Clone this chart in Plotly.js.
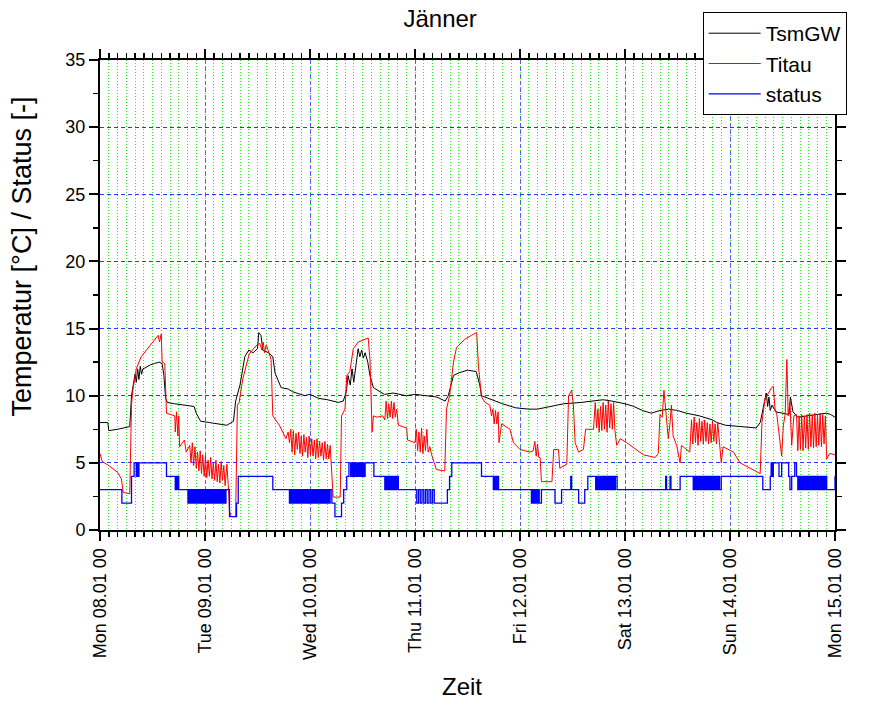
<!DOCTYPE html>
<html>
<head>
<meta charset="utf-8">
<script src="https://cdn.plot.ly/plotly-3.0.1.min.js"></script>
<style>html,body{margin:0;padding:0;background:#fff;}#chart{width:891px;height:701px;}</style>
</head>
<body>
<div id="chart"></div>
<script>
// time in hours since Mon 08.01 00:00
const tickHours = [0, 24, 48, 72, 96, 120, 144, 168];
const tickLabels = ["Mon 08.01 00", "Tue 09.01 00", "Wed 10.01 00", "Thu 11.01 00", "Fri 12.01 00", "Sat 13.01 00", "Sun 14.01 00", "Mon 15.01 00"];
const chartTitle = "Jänner";
const xTitle = "Zeit";
const yTitle = "Temperatur [°C] / Status [-]";

const tsmT = [0,1.8,2.0,4,6.8,7.2,7.6,8.0,8.3,8.6,8.9,9.2,9.5,9.8,10.5,11.5,12.5,13.5,14.2,14.6,15.0,15.4,17,19,21.5,22,23,25,27,29,30.5,31,32,32.6,33.1,34,35,36,36.3,36.8,37.2,38.5,39.5,40,41.4,43,44,46.8,48,50,52,54.5,55.6,56.3,56.7,57.2,57.6,58,58.4,58.7,59,59.4,59.8,60.2,60.6,61.2,61.7,62.5,63.6,65,67,70,72,75,77,78.9,79.6,80.4,80.8,82,84,86,86.8,87.2,88,90,92,95,98,100,103,106,110,113,115,117,120,122,124,126,128,130,132,134,137,140,141,143,146,150,150.9,151.9,152.3,152.6,152.9,153.2,153.6,154.5,156,157.5,157.8,158.4,159.5,162,164,166,167,168];
const tsmV = [8.0,8.0,7.4,7.5,7.7,10.0,10.8,11.6,11.0,12.0,11.2,12.2,11.6,12.0,12.1,12.3,12.4,12.5,12.4,11.5,9.8,9.5,9.4,9.3,9.2,8.7,8.1,8.0,7.9,7.8,8.1,9.6,10.8,11.8,12.9,13.4,13.2,13.5,14.7,14.5,13.4,13.2,12.9,11.7,10.6,10.5,10.3,10.0,10.1,9.8,9.7,9.5,9.6,10.3,11.5,10.8,12.0,11.0,12.2,12.8,13.5,12.9,13.4,12.8,13.2,12.5,11.5,10.6,10.4,10.1,10.2,10.0,10.1,10.0,9.9,9.6,10.0,11.0,11.5,11.7,11.9,11.8,10.8,10.0,9.9,9.6,9.4,9.1,9.0,9.0,9.2,9.4,9.5,9.6,9.7,9.6,9.4,9.2,8.9,8.7,8.9,9.0,8.9,8.7,8.5,8.2,8.0,7.8,7.7,7.6,8.0,9.5,10.2,9.2,9.9,8.9,9.3,8.8,8.7,8.6,9.9,8.8,8.4,8.5,8.6,8.7,8.6,8.4];

const titT = [0,0.5,2,4,4.9,5.3,6.8,7.2,7.5,8.3,9.4,10.9,12,13.3,13.6,14.0,14.2,14.8,15.2,16,17.1,17.2,17.5,17.8,18.0,18.2,19.3,19.7,20.5,20.8,21.1,21.4,21.7,22,22.3,22.6,22.9,23.2,23.5,23.8,24.1,24.4,24.7,25.0,25.3,25.6,25.9,26.2,26.5,26.8,27.1,27.4,27.7,28.0,28.3,28.6,29.0,29.3,29.6,30,31,31.4,31.8,32.6,34.1,35.6,36.5,37,37.3,37.6,38,39.1,39.5,41.0,42.5,43.0,43.3,43.6,43.9,44.2,44.5,44.8,45.1,45.4,45.7,46.0,46.3,46.6,46.9,47.2,47.5,47.8,48.1,48.4,48.7,49.0,49.3,49.6,49.9,50.2,50.5,50.8,51.1,51.4,51.7,52.0,52.3,52.6,52.9,53.3,54.9,55.2,56.0,56.4,57.1,57.9,59.0,60.9,61.3,61.7,62.2,62.5,63.3,64.6,65.1,65.4,65.7,66.0,66.3,66.6,66.9,67.2,67.5,67.8,68.2,70.1,70.3,72.0,72.3,72.6,72.9,73.2,73.5,73.8,74.1,74.4,74.7,75.0,75.4,75.8,76.9,78.8,79.2,79.9,80.8,81.5,83.4,84.9,85.7,86.1,86.5,87.2,88.0,89.1,89.5,89.8,90.1,90.4,90.7,91.0,91.2,91.8,93.7,94.5,96,98.3,99,99.4,99.7,100.0,100.3,100.6,100.9,103.3,103.7,104.8,105.1,106.7,107.1,107.8,108.2,108.6,109.4,110.5,111.0,112.8,113.2,113.5,113.8,114.1,114.4,114.7,115.0,115.3,115.6,115.9,116.2,116.5,116.8,117.1,117.4,117.7,118.1,118.9,120.4,122,124.2,126.9,127.6,128.0,128.5,128.9,129.3,129.9,130.3,130.6,131.0,131.8,132.6,132.9,134.8,135.2,135.5,135.8,136.1,136.4,136.7,137.0,137.3,137.6,137.9,138.2,138.5,138.8,139.1,139.4,139.7,140.0,140.3,140.6,140.9,141.2,141.6,142.0,142.4,144.8,146.3,148.6,150.9,151.3,152.0,152.8,153.5,153.9,154.3,154.7,155.8,156.2,156.6,157.0,157.3,157.7,158.1,158.6,159.2,159.5,159.8,160.1,160.4,160.7,161.0,161.3,161.6,161.9,162.2,162.5,162.8,163.1,163.4,163.7,164.0,164.3,164.6,164.9,165.2,165.5,165.8,166.1,166.8,168];
const titV = [5.7,5.1,4.8,4.3,3.8,2.8,2.7,9.3,10.4,12.0,12.9,13.5,13.9,14.5,14.0,14.6,12.5,12.4,8.7,8.6,8.5,7.3,8.8,7.0,8.5,6.2,6.7,5.8,6.3,5.0,6.5,4.8,6.2,4.6,5.8,4.4,5.9,4.2,5.6,4.0,5.5,3.9,5.2,4.0,5.4,3.8,5.0,3.7,5.2,3.6,4.9,3.5,5.1,3.7,4.8,3.3,4.9,3.4,1.4,1.0,1.0,9.3,9.5,11.2,13.1,13.7,13.9,13.4,14.0,13.2,13.8,12.7,8.5,7.8,6.8,7.3,6.5,7.5,5.8,7.4,5.6,7.2,6.0,7.3,5.7,7.0,5.5,7.1,5.8,6.9,5.4,7.0,5.6,6.8,5.5,6.7,5.3,6.8,5.4,6.6,5.5,6.5,5.2,6.6,5.3,6.4,5.3,6.3,4.3,2.45,2.45,8.5,9.0,11.5,11.8,13.5,14.0,14.2,14.3,12.7,7.3,8.5,8.4,8.5,8.2,9.6,8.3,9.4,8.4,9.6,8.3,9.5,8.4,9.0,7.8,7.6,6.7,6.5,7.5,5.9,7.3,5.8,7.6,5.7,7.0,5.9,7.5,5.8,6.2,5.6,4.5,4.4,9.0,10.0,12.5,13.6,14.2,14.5,14.6,14.7,12.2,9.9,9.5,9.3,8.5,9.0,7.9,8.9,7.9,8.8,6.5,7.9,7.5,6.5,6.0,5.8,5.9,6.6,5.5,6.4,5.4,5.4,3.6,3.6,6.0,6.0,4.6,4.9,10.0,10.4,9.3,6.5,5.8,6.0,7.5,7.5,9.5,7.6,9.0,7.3,9.2,7.4,9.5,7.5,9.3,7.3,9.6,7.6,9.4,7.5,9.5,7.4,6.3,6.8,6.5,6.1,5.6,5.4,5.7,8.6,8.4,10.4,8.8,6.8,8.0,9.3,7.0,6.3,5.0,6.3,5.8,8.2,6.4,8.4,6.5,8.0,6.3,8.3,6.6,8.1,6.4,8.2,6.6,8.0,6.4,7.9,6.5,8.1,6.6,7.9,6.4,8.0,6.5,5.0,6.2,5.8,5.0,4.6,4.2,8.0,9.8,10.2,10.6,10.7,9.0,8.6,5.5,7.8,8.6,12.7,8.5,9.5,6.3,8.5,8.6,5.9,8.5,6.0,8.6,5.9,8.5,6.1,8.6,6.0,8.7,6.2,8.6,6.1,8.7,6.2,8.6,6.3,8.7,6.2,8.6,6.4,8.5,5.3,5.7,5.6];

const stT = [0,5.0,7.2,7.8,8.3,8.5,8.7,8.9,15.2,17.2,17.4,17.6,17.8,18.0,20.1,20.4,20.7,21.0,21.3,21.6,21.9,22.2,22.5,22.8,23.1,23.4,23.7,24.0,24.3,24.6,24.9,25.2,25.5,25.8,26.1,26.4,26.7,27.0,27.3,27.6,27.9,28.2,28.5,28.8,29.0,29.6,31.2,31.6,39.5,43.3,43.6,43.9,44.2,44.5,44.8,45.1,45.4,45.7,46.0,46.3,46.6,46.9,47.2,47.5,47.8,48.1,48.4,48.7,49.0,49.3,49.6,49.9,50.2,50.5,50.8,51.1,51.4,51.7,52.0,52.3,52.6,53.0,53.7,55.2,55.7,56.4,56.9,57.3,57.5,57.8,58.0,58.3,58.5,58.8,59.0,59.3,59.5,59.8,60.0,60.3,60.6,62.6,65.1,65.4,65.6,65.9,66.1,66.4,66.6,66.9,67.1,67.4,67.6,67.9,68.2,72.0,72.4,72.8,73.2,73.6,74.0,74.4,74.8,75.2,75.6,76.0,76.4,76.9,79.4,79.9,80.4,87.2,89.9,90.2,90.5,90.8,91.1,91.4,98.6,98.9,99.2,99.5,99.8,100.1,100.4,100.9,104.0,105.5,107.6,107.8,109.4,110.8,111.5,113.3,113.6,113.9,114.2,114.5,114.8,115.1,115.4,115.7,116.0,116.3,116.6,116.9,117.2,117.5,117.8,118.2,128.4,129.3,129.5,130.3,130.5,132.6,135.6,135.9,136.2,136.5,136.8,137.1,137.4,137.7,138.0,138.3,138.6,138.9,139.2,139.5,139.8,140.1,140.4,140.7,141.0,141.3,141.6,142.0,151.5,152.6,153.2,153.4,153.7,153.9,155.2,155.8,157.4,157.7,158.1,158.8,159.2,159.5,159.8,160.1,160.4,160.7,161.0,161.3,161.6,161.9,162.2,162.5,162.8,163.1,163.4,163.7,164.0,164.3,164.6,164.9,165.2,165.5,165.8,166.1,168];
const stV = [3,2,4,5,4,5,4,5,4,3,4,3,4,3,2,3,2,3,2,3,2,3,2,3,2,3,2,3,2,3,2,3,2,3,2,3,2,3,2,3,2,3,2,3,3,1,2,4,3,2,3,2,3,2,3,2,3,2,3,2,3,2,3,2,3,2,3,2,3,2,3,2,3,2,3,2,3,2,3,2,3,2,1,2,3,4,5,4,5,4,5,4,5,4,5,4,5,4,5,4,5,4,3,4,3,4,3,4,3,4,3,4,3,4,3,3,2,3,2,3,2,3,2,3,2,3,2,2,3,4,5,4,3,4,3,4,3,3,2,3,2,3,2,3,2,3,2,3,4,3,2,3,4,3,4,3,4,3,4,3,4,3,4,3,4,3,4,3,4,3,3,4,3,4,3,4,3,4,3,4,3,4,3,4,3,4,3,4,3,4,3,4,3,4,3,4,3,4,3,3,4,5,4,5,4,5,4,3,4,5,4,3,4,3,4,3,4,3,4,3,4,3,4,3,4,3,4,3,4,3,4,3,4,3,4,3,3,3];

const font = "Liberation Sans, Arial, sans-serif";
const traces = [
  {x: tsmT, y: tsmV, name: "TsmGW", mode: "lines", line: {color: "#000000", width: 1}},
  {x: titT, y: titV, name: "Titau", mode: "lines", line: {color: "#ff0000", width: 1}},
  {x: stT, y: stV, name: "status", mode: "lines", line: {color: "#0000ff", width: 1.3, shape: "hv"}}
];

const layout = {
  width: 891, height: 701,
  margin: {l: 100, r: 56, t: 58, b: 171},
  paper_bgcolor: "#ffffff", plot_bgcolor: "#ffffff",
  font: {family: font, color: "#000000", size: 18},
  title: {text: chartTitle, x: 0.494, xref: "container", xanchor: "center", y: 0.974, yref: "container", yanchor: "middle", font: {size: 24, family: font}},
  showlegend: true,
  legend: {x: 0.82, y: 1.102, xanchor: "left", yanchor: "top", bgcolor: "#ffffff", bordercolor: "#000000", borderwidth: 1, font: {size: 21, family: font}, tracegroupgap: 0, itemwidth: 52},
  xaxis: {
    range: [0, 168], tickmode: "array", tickvals: tickHours, ticktext: tickLabels, tickangle: -90,
    ticks: "outside", ticklen: 9, tickwidth: 2, tickcolor: "#000", showline: true, linewidth: 2, linecolor: "#000", mirror: "ticks",
    showgrid: true, gridcolor: "#5a5aff", griddash: "4px,3px", gridwidth: 1, zeroline: false,
    tickfont: {size: 18, family: font},
    minor: {tickmode: "linear", tick0: 0, dtick: 2, ticks: "outside", ticklen: 5, tickwidth: 1.5, tickcolor: "#000", showgrid: true, gridcolor: "#22ee22", griddash: "1px,2px", gridwidth: 1}
  },
  yaxis: {
    range: [0, 35], tickmode: "linear", tick0: 0, dtick: 5,
    ticks: "outside", ticklen: 9, tickwidth: 2, tickcolor: "#000", showline: true, linewidth: 2, linecolor: "#000", mirror: "ticks",
    showgrid: true, gridcolor: "#3333ff", griddash: "4px,3px", gridwidth: 1, zeroline: false,
    tickfont: {size: 18, family: font},
    minor: {tickmode: "linear", tick0: 0, dtick: 2.5, ticks: "outside", ticklen: 5, tickwidth: 1.5, tickcolor: "#000", showgrid: false}
  },
  annotations: [
    {text: xTitle, xref: "paper", yref: "paper", x: 0.4925, y: -0.3326, xanchor: "center", yanchor: "middle", showarrow: false, font: {size: 24, family: font}},
    {text: yTitle, xref: "paper", yref: "paper", x: -0.1055, y: 0.583, xanchor: "center", yanchor: "middle", textangle: -90, showarrow: false, font: {size: 27, family: font}}
  ]
};

Plotly.newPlot("chart", traces, layout, {displayModeBar: false, staticPlot: true});
</script>
</body>
</html>
